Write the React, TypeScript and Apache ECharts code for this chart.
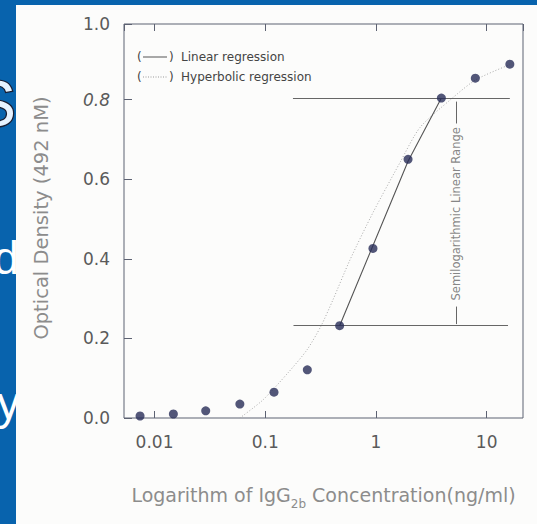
import React, { useEffect, useRef } from 'react';
import * as echarts from 'echarts';

// Measured points (IgG2b concentration ng/ml, optical density)
const concentrations = [0.0074, 0.0148, 0.029, 0.059, 0.12, 0.24, 0.47, 0.94, 1.95, 3.9, 7.9, 16.2];
const densities = [0.005, 0.01, 0.018, 0.035, 0.065, 0.121, 0.232, 0.426, 0.65, 0.804, 0.854, 0.889];

// Linear regression line (semilog linear range)
const linearX = [0.47, 1.95, 3.9];
const linearY = [0.232, 0.645, 0.804];

// Hyperbolic regression curve
const hyperX = [0.059, 0.095, 0.16, 0.238, 0.319, 0.409, 0.582, 0.94, 1.65, 2.5, 4.86, 8.0, 16.2];
const hyperY = [0, 0.045, 0.113, 0.171, 0.231, 0.297, 0.397, 0.516, 0.642, 0.73, 0.803, 0.85, 0.888];

// Horizontal range limits
const rangeLines = [
  { x: [0.178, 16.2], y: 0.804 },
  { x: [0.18, 15.6], y: 0.232 },
];
// Vertical dimension marker of the linear range
const markerX = 5.3;
const markerSegments = [
  [0.795, 0.74],
  [0.28, 0.236],
];
const markerLabelY = 0.513;
const markerText = 'Semilogarithmic Linear Range';

const xTickValues = [0.01, 0.1, 1, 10];
const xTickLabels = ['0.01', '0.1', '1', '10'];
const yTickLabels = ['0.0', '0.2', '0.4', '0.6', '0.8', '1.0'];

const FONT = 'DejaVu Sans';

export default function App() {
  const ref = useRef<HTMLDivElement>(null);

  useEffect(() => {
    document.body.style.margin = '0';
    const chart = echarts.init(ref.current!, undefined, { renderer: 'svg' });

    const xFmt = (v: number) => {
      for (let i = 0; i < xTickValues.length; i++) {
        if (Math.abs(Math.log10(v) - Math.log10(xTickValues[i])) < 1e-6) return xTickLabels[i];
      }
      return '';
    };
    const yFmt = (v: number) => {
      if (v > 0.95) return '{top|' + yTickLabels[5] + '}';
      const idx = Math.round(v / 0.2);
      if (idx === 4) return '{it|' + yTickLabels[4] + '}';
      return yTickLabels[idx];
    };

    const lineColor = '#5d6272';
    const labelColor = '#5a5a5a';
    const nameColor = '#8c8c8c';

    const option: any = {
      animation: false,
      backgroundColor: 'transparent',
      grid: {
        left: 124,
        top: 24,
        width: 399,
        height: 394,
        show: true,
        borderColor: lineColor,
        borderWidth: 1,
        backgroundColor: 'transparent',
      },
      xAxis: [
        {
          type: 'log',
          logBase: 10,
          min: 0.0053,
          max: 21.3,
          position: 'bottom',
          axisLine: { show: false },
          axisTick: { show: true, inside: true, length: 7, lineStyle: { color: lineColor } },
          splitLine: { show: false },
          minorTick: { show: false },
          axisLabel: {
            formatter: xFmt,
            fontFamily: FONT,
            fontSize: 17,
            color: labelColor,
            margin: 15,
            showMinLabel: false,
            showMaxLabel: false,
          },
          name: 'Logarithm of IgG{sub|2b} Concentration(ng/ml)',
          nameLocation: 'middle',
          nameGap: 62,
          nameTextStyle: {
            fontFamily: FONT,
            fontSize: 19,
            color: nameColor,
            rich: {
              sub: { fontFamily: FONT, fontSize: 12, color: nameColor, padding: [18, 0, 0, 0] },
            },
          },
        },
        {
          type: 'log',
          logBase: 10,
          min: 0.0053,
          max: 21.3,
          position: 'top',
          axisLine: { show: false },
          axisTick: { show: true, inside: true, length: 7, lineStyle: { color: lineColor } },
          splitLine: { show: false },
          axisLabel: { show: false },
        },
      ],
      yAxis: {
        type: 'value',
        min: 0,
        max: 0.99,
        interval: 0.2,
        axisLine: { show: false },
        axisTick: { show: true, inside: true, length: 8, lineStyle: { color: lineColor } },
        splitLine: { show: false },
        axisLabel: {
          formatter: yFmt,
          fontFamily: FONT,
          fontSize: 17,
          color: labelColor,
          margin: 14,
          showMaxLabel: true,
          rich: {
            it: { fontFamily: FONT, fontSize: 17, color: labelColor, fontStyle: 'italic' },
            top: { fontFamily: FONT, fontSize: 17, color: labelColor },
          },
        },
        name: 'Optical Density (492 nM)',
        nameLocation: 'middle',
        nameGap: 73,
        nameTextStyle: { fontFamily: FONT, fontSize: 19.5, color: nameColor, padding: [0, 0, 0, 6] },
      },
      graphic: [
        { type: 'text', z: -30, style: { text: 'S', x: 16, y: 104, align: 'right', verticalAlign: 'middle', fontFamily: 'Liberation Sans', fontSize: 64, fill: '#e6f2ff', stroke: '#1a1f33', lineWidth: 2.5 } },
        { type: 'text', z: -30, style: { text: 'd', x: 19, y: 258, align: 'right', verticalAlign: 'middle', fontFamily: 'Liberation Sans', fontSize: 46, fill: '#ffffff' } },
        { type: 'text', z: -30, style: { text: 'y', x: 20, y: 403, align: 'right', verticalAlign: 'middle', fontFamily: 'Liberation Sans', fontSize: 46, fill: '#ffffff' } },
        { type: 'rect', z: -20, shape: { x: 16, y: 5, width: 521, height: 519 }, style: { fill: '#fcfcfb' } },
        { type: 'text', style: { text: '(', x: 137, y: 57, verticalAlign: 'middle', fontFamily: FONT, fontSize: 12, fill: '#444' } },
        { type: 'line', shape: { x1: 143, y1: 57, x2: 167, y2: 57 }, style: { stroke: '#555', lineWidth: 1 } },
        { type: 'text', style: { text: ')', x: 169, y: 57, verticalAlign: 'middle', fontFamily: FONT, fontSize: 12, fill: '#444' } },
        { type: 'text', style: { text: 'Linear regression', x: 181, y: 57, verticalAlign: 'middle', fontFamily: FONT, fontSize: 12, fill: '#444' } },
        { type: 'text', style: { text: '(', x: 137, y: 77, verticalAlign: 'middle', fontFamily: FONT, fontSize: 12, fill: '#444' } },
        { type: 'line', shape: { x1: 143, y1: 77, x2: 167, y2: 77 }, style: { stroke: '#999', lineWidth: 1, lineDash: [1, 1.5] } },
        { type: 'text', style: { text: ')', x: 169, y: 77, verticalAlign: 'middle', fontFamily: FONT, fontSize: 12, fill: '#444' } },
        { type: 'text', style: { text: 'Hyperbolic regression', x: 181, y: 77, verticalAlign: 'middle', fontFamily: FONT, fontSize: 12, fill: '#444' } },
      ],
      series: [
        {
          type: 'line',
          name: 'Hyperbolic regression',
          data: hyperX.map((x, i) => [x, hyperY[i]]),
          smooth: 0.25,
          showSymbol: false,
          symbol: 'none',
          lineStyle: { color: '#a8a8a8', width: 1, type: [1, 2] },
          z: 2,
        },
        {
          type: 'line',
          name: 'Linear regression',
          data: linearX.map((x, i) => [x, linearY[i]]),
          showSymbol: false,
          symbol: 'none',
          lineStyle: { color: '#555', width: 1.1 },
          z: 3,
        },
        {
          type: 'lines',
          coordinateSystem: 'cartesian2d',
          data: [
            ...rangeLines.map((r) => ({ coords: [[r.x[0], r.y], [r.x[1], r.y]] })),
            ...markerSegments.map((s) => ({ coords: [[markerX, s[0]], [markerX, s[1]]] })),
          ],
          lineStyle: { color: '#666', width: 1, opacity: 1 },
          z: 3,
        },
        {
          type: 'scatter',
          data: [[markerX, markerLabelY]],
          symbolSize: 0,
          label: {
            show: true,
            position: 'inside',
            rotate: 90,
            formatter: markerText,
            fontFamily: FONT,
            fontSize: 11.5,
            color: '#666',
          },
          z: 3,
        },
        {
          type: 'scatter',
          name: 'Measured',
          data: concentrations.map((x, i) => [x, densities[i]]),
          symbol: 'circle',
          symbolSize: 9,
          itemStyle: { color: '#272c58' },
          z: 5,
        },
      ],
    };

    chart.setOption(option);
    return () => chart.dispose();
  }, []);

  return (
    <div
      ref={ref}
      style={{ position: 'fixed', left: 0, top: 0, width: 537, height: 524, background: '#0863ad' }}
    />
  );
}
